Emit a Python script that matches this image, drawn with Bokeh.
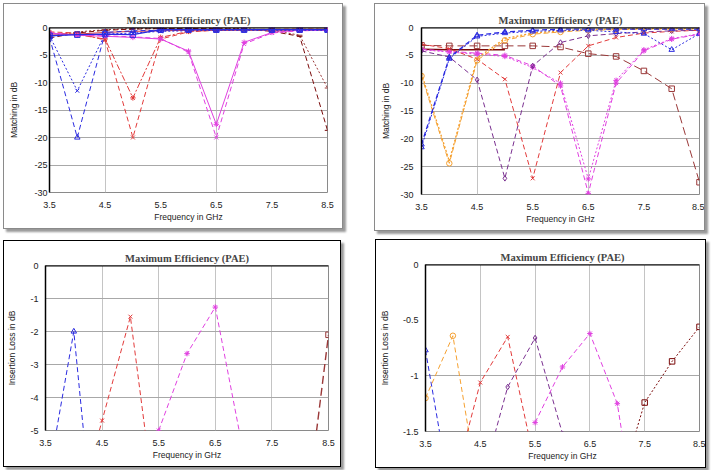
from bokeh.plotting import figure
from bokeh.layouts import row, column
from bokeh.models import FixedTicker, Span, Range1d, ColumnDataSource
from bokeh.embed import file_html
from bokeh.resources import INLINE

NA = float("nan")

# Frequency points (GHz)
FREQ_GHZ = [3.5, 4.0, 4.5, 5.0, 5.5, 6.0, 6.5, 7.0, 7.5, 8.0, 8.5]
X_TICKS = [3.5, 4.5, 5.5, 6.5, 7.5, 8.5]

TITLE = "Maximum Efficiency (PAE)"
X_TITLE = "Frequency in GHz"
Y_TITLE_MATCH = "Matching in dB"
Y_TITLE_IL = "Insertion Loss in dB"

# --- Matching, design set 1 (dB) ---
m1_blue_a = [-1.8, -20.0, -0.9, -0.6, -0.5, -0.4, -0.4, -0.4, -0.4, -0.4, -0.4]
m1_blue_b = [-1.5, -11.5, -1.2, -1.0, -0.7, -0.6, -0.5, -0.5, -0.5, -0.5, -0.5]
m1_blue_c = [-1.5, -1.3, -1.2, -1.3, -0.4, -0.4, -0.4, -0.4, -0.4, -0.4, -0.4]
m1_red_a = [-0.8, -1.0, -2.3, -20.0, -2.1, -0.8, -0.5, -0.4, -0.3, -0.3, -0.3]
m1_red_b = [-1.0, -1.3, -2.1, -12.8, -1.8, -0.7, -0.5, -0.4, -0.4, -0.3, -0.3]
m1_red_c = [-1.2, -1.2, -0.9, -0.7, -0.6, -0.5, -0.5, -0.5, -0.5, -0.5, -0.5]
m1_mag_a = [-1.0, -1.4, -1.5, -1.7, -2.0, -4.5, -20.0, -3.0, -1.0, -0.6, -0.5]
m1_mag_b = [-1.0, -1.4, -1.6, -1.8, -2.1, -4.3, -17.6, -2.7, -0.9, -0.5, -0.4]
m1_brn_a = [-1.9, -1.0, -0.5, -0.3, -0.2, -0.2, -0.2, -0.3, -0.7, -1.6, -18.7]
m1_brn_b = [-1.6, -0.8, -0.4, -0.2, -0.2, -0.1, -0.1, -0.2, -0.5, -1.4, -11.0]

# --- Matching, design set 2 (dB) ---
m2_blue_a = [-21.0, -5.4, -1.4, -0.8, -0.5, -0.3, -0.3, -0.3, -0.3, -0.3, -0.3]
m2_blue_b = [-21.5, -5.6, -1.6, -1.0, -0.7, -0.5, -0.5, -0.8, -1.1, -4.0, -1.1]
m2_orange_a = [-8.7, -24.4, -5.9, -2.3, -1.2, -0.8, -0.5, -0.4, -0.3, -0.3, -0.3]
m2_orange_b = [-8.3, -24.0, -5.5, -2.0, -1.0, -0.6, -0.4, -0.3, -0.2, -0.2, -0.2]
m2_purple = [-4.2, -5.3, -9.4, -27.1, -6.9, -2.7, -1.5, -1.1, -0.8, -0.6, -0.5]
m2_red = [-3.0, -3.8, -5.7, -9.3, -27.1, -8.1, -3.3, -1.8, -1.0, -0.7, -0.5]
m2_mag_a = [-3.9, -4.3, -4.6, -5.0, -6.9, -10.5, -29.8, -10.0, -4.2, -2.1, -1.2]
m2_mag_b = [-4.0, -4.4, -4.8, -5.2, -7.2, -10.0, -27.2, -9.5, -4.0, -2.0, -1.1]
m2_brown = [-3.2, -3.3, -3.3, -3.3, -3.3, -3.5, -4.7, -5.2, -7.8, -11.0, -27.8]
m2_dark = [-3.9, -4.0, -4.0, -4.0, NA, NA, NA, NA, NA, NA, NA]

# --- Insertion loss, design set 1 (dB) ---
il1_blue = [-6.9, -2.0, -10.8, NA, NA, NA, NA, NA, NA, NA, NA]
il1_red = [NA, -7.8, -4.7, -1.55, -8.2, NA, NA, NA, NA, NA, NA]
il1_mag = [NA, NA, NA, NA, -5.0, -2.67, -1.26, -5.7, NA, NA, NA]
il1_brown = [NA, NA, NA, NA, NA, NA, NA, NA, NA, -9.0, -2.1]

# --- Insertion loss, design set 2 (dB) ---
il2_blue = [-0.77, -2.2, NA, NA, NA, NA, NA, NA, NA, NA, NA]
il2_orange = [-1.2, -0.64, -2.13, NA, NA, NA, NA, NA, NA, NA, NA]
il2_red = [NA, -2.0, -1.06, -0.65, -1.8, NA, NA, NA, NA, NA, NA]
il2_purple = [NA, NA, -2.0, -1.10, -0.66, -1.52, NA, NA, NA, NA, NA]
il2_mag = [NA, NA, NA, NA, -1.42, -0.92, -0.62, -1.25, -2.8, NA, NA]
il2_brown = [NA, NA, NA, NA, NA, NA, NA, -2.06, -1.24, -0.87, -0.56]

BLUE = "#2a2ae0"
RED = "#e23a3a"
MAG = "#e040e0"
ORANGE = "#f5a030"
PURPLE = "#7a3090"
BROWN = "#9a3838"
DARK = "#7a0a0a"

DASH = "5 3"
DOT = "2 2"
LONG = "8 4"
DASHDOT = "6 2 2 2"


def add_series(p, values, color, dash, marker, width=1.0):
    src = ColumnDataSource(dict(x=FREQ_GHZ, y=values))
    p.line("x", "y", source=src, line_color=color, line_dash=dash, line_width=width)
    if marker:
        p.scatter("x", "y", source=src, marker=marker, size=5.5,
                  line_color=color, fill_color=None, line_width=1)


def panel(w, h, margin, borders, yr, yticks, ytitle, hgrid, vgrid,
          ylab_off, ytitle_off, box_color):
    left, right, top, bottom = borders
    p = figure(width=w, height=h, x_range=Range1d(3.5, 8.5), y_range=Range1d(*yr),
               output_backend="svg", toolbar_location=None,
               min_border_left=left, min_border_right=right,
               min_border_top=top, min_border_bottom=bottom)
    p.margin = margin
    p.styles = {"border": f"1px solid {box_color}",
                "box-shadow": "3px 3px 2px #9a9a9a"}
    p.background_fill_color = "white"
    p.border_fill_color = "white"
    p.outline_line_color = "#8a8a8a"

    p.title.text = TITLE
    p.title.align = "center"
    p.title.text_font = "Liberation Serif"
    p.title.text_font_size = "10.5px"
    p.title.text_font_style = "bold"
    p.title.standoff = 4

    p.xaxis.ticker = FixedTicker(ticks=X_TICKS)
    p.xaxis.major_label_overrides = {t: f"{t:.1f}" for t in X_TICKS}
    p.yaxis.ticker = FixedTicker(ticks=yticks)
    p.yaxis.major_label_overrides = {t: (f"{t:g}" if t != 0 else "0") for t in yticks}

    for ax in (p.xaxis[0], p.yaxis[0]):
        ax.major_label_text_font = "Liberation Sans"
        ax.major_label_text_font_size = "9px"
        ax.major_label_text_color = "#222222"
        ax.axis_label_text_font = "Liberation Sans"
        ax.axis_label_text_font_size = "8.5px"
        ax.axis_label_text_font_style = "normal"
        ax.axis_label_text_color = "#222222"
        ax.major_tick_in = 0
        ax.major_tick_out = 0
        ax.minor_tick_in = 0
        ax.minor_tick_out = 0

    p.xaxis.axis_label = X_TITLE
    p.xaxis.axis_line_color = None
    p.xaxis.major_label_standoff = 9
    p.xaxis.axis_label_standoff = 1

    p.yaxis.axis_label = ytitle
    p.yaxis.axis_line_color = "black"
    p.yaxis.axis_line_width = 1.5
    p.yaxis.major_label_standoff = ylab_off
    p.yaxis.axis_label_standoff = ytitle_off

    p.xgrid.ticker = FixedTicker(ticks=vgrid)
    p.xgrid.grid_line_color = "#c4c4c4"
    p.ygrid.ticker = FixedTicker(ticks=hgrid)
    p.ygrid.grid_line_color = "#a8a8a8"

    p.add_layout(Span(location=0, dimension="width", line_color="black", line_width=2))
    return p


MATCH_TICKS = [-30, -25, -20, -15, -10, -5, 0]

# Matching, set 1
p1 = panel(340, 226, (3, 0, 0, 3), (45, 17, 23, 34), (-30, 0), MATCH_TICKS,
           Y_TITLE_MATCH, [-25, -20, -15, -10, -5], [4.5, 6.5], 2, 12, "#8a8a8a")
add_series(p1, m1_brn_b, BROWN, DOT, "dash")
add_series(p1, m1_brn_a, DARK, DASH, "dash")
add_series(p1, m1_red_c, RED, "solid", None)
add_series(p1, m1_red_b, RED, DASHDOT, "asterisk")
add_series(p1, m1_red_a, RED, DASH, "x")
add_series(p1, m1_mag_b, MAG, "solid", "asterisk")
add_series(p1, m1_mag_a, MAG, DASH, "x")
add_series(p1, m1_blue_b, BLUE, DOT, "x")
add_series(p1, m1_blue_a, BLUE, DASH, "triangle")
add_series(p1, m1_blue_c, BLUE, "solid", "square", 1.3)

# Matching, set 2
p2 = panel(331, 228, (3, 0, 0, 31), (46, 7, 23, 38), (-30, 0), MATCH_TICKS,
           Y_TITLE_MATCH, [-25, -20, -15, -10, -5], [4.5, 6.5], 8, 6, "#8a8a8a")
add_series(p2, m2_dark, DARK, "solid", None, 1.6)
add_series(p2, m2_brown, BROWN, LONG, "square")
add_series(p2, m2_mag_b, MAG, DOT, "asterisk")
add_series(p2, m2_mag_a, MAG, DASH, "asterisk")
add_series(p2, m2_red, RED, DASH, "x")
add_series(p2, m2_purple, PURPLE, DASH, "diamond")
add_series(p2, m2_orange_b, ORANGE, DOT, None, 1.4)
add_series(p2, m2_orange_a, ORANGE, DASH, "circle")
add_series(p2, m2_blue_b, BLUE, DOT, "triangle")
add_series(p2, m2_blue_a, BLUE, DASH, "triangle", 1.3)

# Insertion loss, set 1
p3 = panel(338, 227, (9, 0, 0, 3), (39, 14, 23, 37), (-5, 0), [-5, -4, -3, -2, -1, 0],
           Y_TITLE_IL, [-4, -3, -2, -1], [4.5, 5.5, 6.5, 7.5], 7, 10, "#000000")
add_series(p3, il1_blue, BLUE, DASH, "triangle")
add_series(p3, il1_red, RED, DASH, "x")
add_series(p3, il1_mag, MAG, DASH, "asterisk")
add_series(p3, il1_brown, BROWN, LONG, "square", 1.4)

# Insertion loss, set 2
p4 = panel(331, 229, (8, 0, 0, 34), (48, 8, 24, 38), (-1.5, 0), [-1.5, -1, -0.5, 0],
           Y_TITLE_IL, [-1], [4.5, 5.5, 6.5, 7.5], 7, 10, "#000000")
add_series(p4, il2_blue, BLUE, DASH, "triangle")
add_series(p4, il2_orange, ORANGE, DASH, "circle")
add_series(p4, il2_red, RED, DASH, "x")
add_series(p4, il2_purple, PURPLE, DASH, "diamond")
add_series(p4, il2_mag, MAG, DASH, "asterisk")
add_series(p4, il2_brown, DARK, DOT, "square")

layout = column(row(p1, p2), row(p3, p4))

open("out.html", "w").write(file_html(layout, INLINE))
